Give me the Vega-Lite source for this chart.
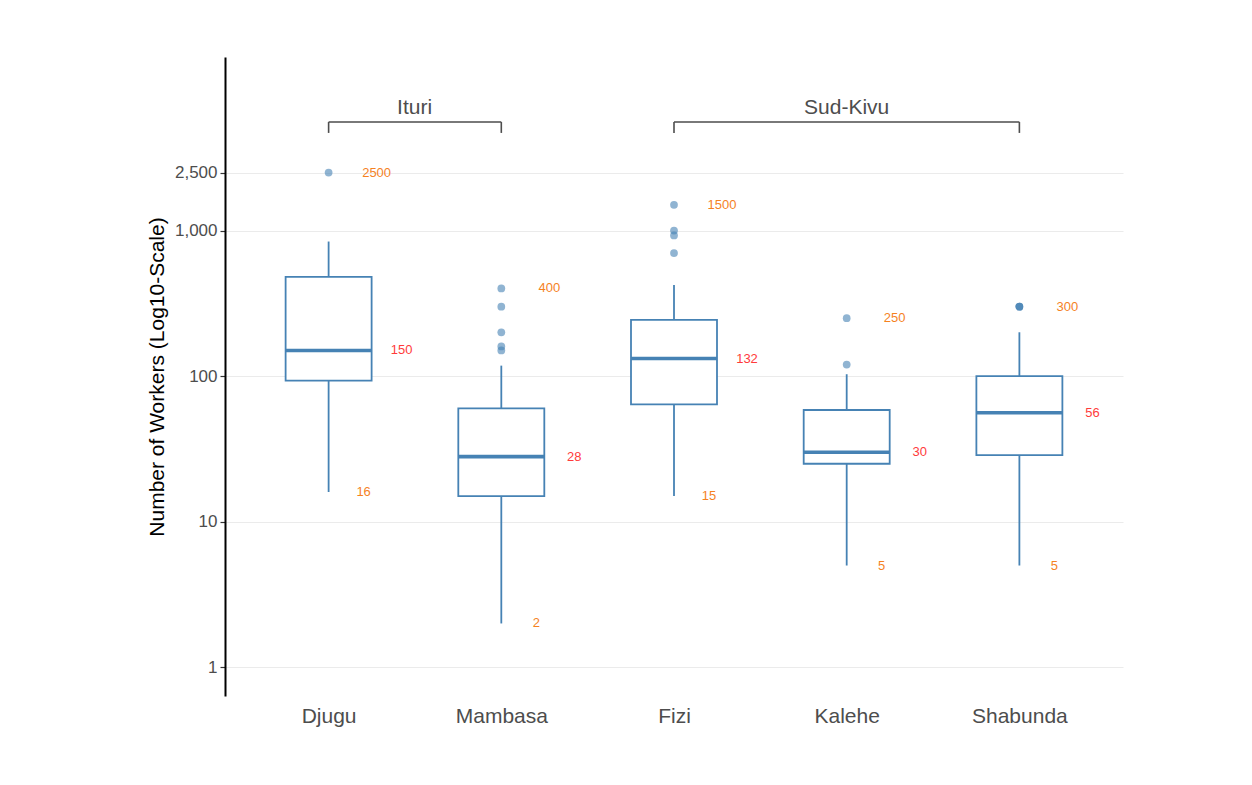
{
  "$schema": "https://vega.github.io/schema/vega-lite/v6.json",
  "width": 898,
  "height": 639,
  "autosize": {"type": "none"},
  "padding": {"left": 225, "top": 57, "right": 129, "bottom": 89},
  "background": "white",
  "config": {"view": {"stroke": null}, "font": "Liberation Sans"},
  "datasets": {
    "boxes": [
      {"region": "Djugu", "lower": 16, "q1": 93, "median": 150, "q3": 480, "upper": 840, "maxval": 2500},
      {"region": "Mambasa", "lower": 2, "q1": 15, "median": 28, "q3": 60, "upper": 118, "maxval": 400},
      {"region": "Fizi", "lower": 15, "q1": 64, "median": 132, "q3": 243, "upper": 422, "maxval": 1500},
      {"region": "Kalehe", "lower": 5, "q1": 25, "median": 30, "q3": 58.5, "upper": 103, "maxval": 250},
      {"region": "Shabunda", "lower": 5, "q1": 28.7, "median": 56, "q3": 100, "upper": 200, "maxval": 300}
    ],
    "outliers": [
      {"region": "Djugu", "value": 2500},
      {"region": "Mambasa", "value": 400},
      {"region": "Mambasa", "value": 300},
      {"region": "Mambasa", "value": 200},
      {"region": "Mambasa", "value": 160},
      {"region": "Mambasa", "value": 150},
      {"region": "Fizi", "value": 1500},
      {"region": "Fizi", "value": 1000},
      {"region": "Fizi", "value": 925},
      {"region": "Fizi", "value": 700},
      {"region": "Kalehe", "value": 250},
      {"region": "Kalehe", "value": 120},
      {"region": "Shabunda", "value": 300},
      {"region": "Shabunda", "value": 300},
      {"region": "Shabunda", "value": 300}
    ],
    "brackets": [
      {"group": "Ituri", "from": "Djugu", "to": "Mambasa"},
      {"group": "Sud-Kivu", "from": "Fizi", "to": "Shabunda"}
    ]
  },
  "encoding": {
    "x": {
      "field": "region",
      "type": "nominal",
      "sort": ["Djugu", "Mambasa", "Fizi", "Kalehe", "Shabunda"],
      "scale": {"type": "point", "padding": 0.6, "domain": ["Djugu", "Mambasa", "Fizi", "Kalehe", "Shabunda"]},
      "axis": {
        "title": null,
        "labelAngle": 0,
        "labelFontSize": 21,
        "labelColor": "#4d4d4d",
        "labelPadding": 9,
        "ticks": false,
        "domain": false,
        "grid": false
      }
    }
  },
  "layer": [
    {
      "data": {"name": "boxes"},
      "mark": {"type": "rule", "color": "#4682b4", "strokeWidth": 1.8},
      "encoding": {
        "y": {
          "field": "lower",
          "type": "quantitative",
          "scale": {"type": "log", "domain": [0.635, 15550], "nice": false, "zero": false},
          "axis": {
            "title": "Number of Workers (Log10-Scale)",
            "titleFontSize": 21,
            "titleFontWeight": "normal",
            "titleColor": "#000000",
            "titlePadding": 7,
            "values": [1, 10, 100, 1000, 2500],
            "format": ",",
            "labelFontSize": 17,
            "labelColor": "#4d4d4d",
            "labelPadding": 3,
            "tickSize": 5,
            "tickColor": "#333333",
            "tickWidth": 1.2,
            "domainColor": "#000000",
            "domainWidth": 2,
            "grid": true,
            "gridColor": "#ebebeb",
            "gridWidth": 1
          }
        },
        "y2": {"field": "q1"}
      }
    },
    {
      "data": {"name": "boxes"},
      "mark": {"type": "rule", "color": "#4682b4", "strokeWidth": 1.8},
      "encoding": {
        "y": {"field": "q3", "type": "quantitative"},
        "y2": {"field": "upper"}
      }
    },
    {
      "data": {"name": "boxes"},
      "mark": {"type": "bar", "size": 86, "fill": "white", "stroke": "#4682b4", "strokeWidth": 1.8},
      "encoding": {
        "y": {"field": "q1", "type": "quantitative"},
        "y2": {"field": "q3"}
      }
    },
    {
      "data": {"name": "boxes"},
      "mark": {"type": "tick", "size": 86, "thickness": 3.6, "color": "#4682b4", "opacity": 1},
      "encoding": {
        "y": {"field": "median", "type": "quantitative"}
      }
    },
    {
      "data": {"name": "outliers"},
      "mark": {"type": "circle", "size": 60, "color": "#4682b4", "opacity": 0.6},
      "encoding": {
        "y": {"field": "value", "type": "quantitative"}
      }
    },
    {
      "data": {"name": "boxes"},
      "mark": {"type": "text", "dx": 48, "fontSize": 13, "color": "#f5821f", "baseline": "middle", "align": "center"},
      "encoding": {
        "y": {"field": "maxval", "type": "quantitative"},
        "text": {"field": "maxval", "type": "quantitative", "format": "d"}
      }
    },
    {
      "data": {"name": "boxes"},
      "mark": {"type": "text", "dx": 73, "fontSize": 13, "color": "#ff3b3b", "baseline": "middle", "align": "center"},
      "encoding": {
        "y": {"field": "median", "type": "quantitative"},
        "text": {"field": "median", "type": "quantitative", "format": "d"}
      }
    },
    {
      "data": {"name": "boxes"},
      "mark": {"type": "text", "dx": 35, "fontSize": 13, "color": "#f5821f", "baseline": "middle", "align": "center"},
      "encoding": {
        "y": {"field": "lower", "type": "quantitative"},
        "text": {"field": "lower", "type": "quantitative", "format": "d"}
      }
    },
    {
      "data": {"name": "brackets"},
      "mark": {"type": "rule", "color": "#4d4d4d", "strokeWidth": 1.6},
      "encoding": {
        "x": {"field": "from", "type": "nominal"},
        "x2": {"field": "to"},
        "y": {"datum": 5560}
      }
    },
    {
      "data": {"name": "brackets"},
      "mark": {"type": "rule", "color": "#4d4d4d", "strokeWidth": 1.6},
      "encoding": {
        "x": {"field": "from", "type": "nominal"},
        "y": {"datum": 4680},
        "y2": {"datum": 5560}
      }
    },
    {
      "data": {"name": "brackets"},
      "mark": {"type": "rule", "color": "#4d4d4d", "strokeWidth": 1.6},
      "encoding": {
        "x": {"field": "to", "type": "nominal"},
        "y": {"datum": 4680},
        "y2": {"datum": 5560}
      }
    },
    {
      "data": {"name": "brackets"},
      "transform": [{"filter": "datum.group === 'Ituri'"}],
      "mark": {"type": "text", "dx": 86, "fontSize": 21, "color": "#4d4d4d", "baseline": "middle", "align": "center"},
      "encoding": {
        "x": {"field": "from", "type": "nominal"},
        "y": {"datum": 6950},
        "text": {"field": "group"}
      }
    },
    {
      "data": {"name": "brackets"},
      "transform": [{"filter": "datum.group === 'Sud-Kivu'"}],
      "mark": {"type": "text", "fontSize": 21, "color": "#4d4d4d", "baseline": "middle", "align": "center"},
      "encoding": {
        "x": {"datum": "Kalehe"},
        "y": {"datum": 6950},
        "text": {"field": "group"}
      }
    }
  ]
}
